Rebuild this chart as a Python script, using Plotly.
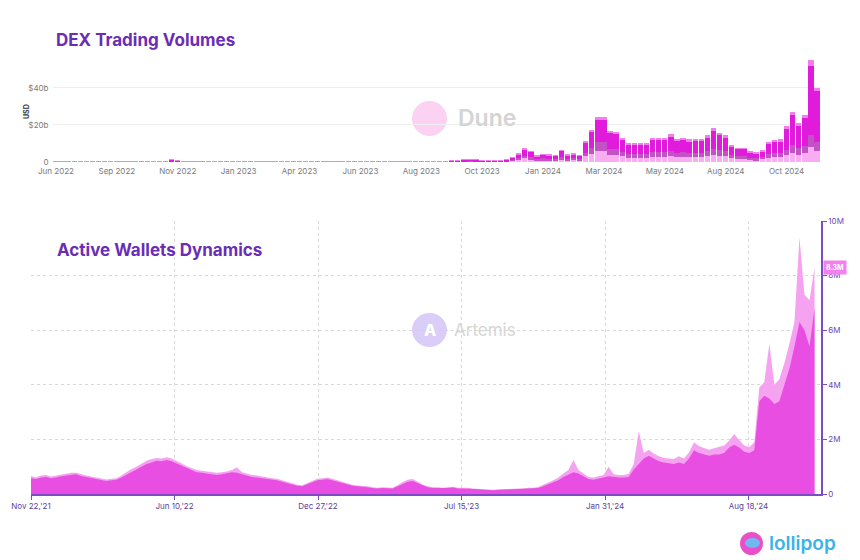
import plotly.graph_objects as go
import pandas as pd

W, H = 860, 560

# ---------------- DEX Trading Volumes (weekly, $b, stacked) ----------------
dex_weeks = pd.date_range("2022-06-27", periods=126, freq="7D")
dex_layer1 = [  # light pink (bottom)
    0.10, 0.12, 0.11, 0.12, 0.13, 0.12, 0.11, 0.10, 0.12, 0.13,
    0.12, 0.11, 0.12, 0.13, 0.12, 0.14, 0.15, 0.14, 0.16, 0.30,
    0.22, 0.15, 0.13, 0.12, 0.11, 0.12, 0.13, 0.12, 0.11, 0.10,
    0.11, 0.12, 0.12, 0.11, 0.10, 0.10, 0.11, 0.12, 0.11, 0.10,
    0.10, 0.11, 0.12, 0.11, 0.10, 0.11, 0.12, 0.12, 0.11, 0.10,
    0.11, 0.12, 0.13, 0.12, 0.11, 0.12, 0.13, 0.14, 0.15, 0.16,
    0.18, 0.20, 0.22, 0.24, 0.26, 0.30,
    0.40, 0.50, 0.55, 0.50, 0.45, 0.40, 0.30, 0.35, 0.50, 0.90,
    1.40, 2.00, 1.70, 1.10, 1.30, 1.20, 1.10, 1.80, 1.20, 1.40,
    1.20, 3.00, 4.50, 5.80, 5.80, 4.00, 3.90, 3.00, 2.40, 2.40,
    2.30, 2.30, 2.90, 2.90, 2.90, 3.30, 2.80, 2.90, 2.70, 2.80,
    2.80, 3.20, 4.00, 3.50, 3.20, 2.10, 1.80, 1.80, 1.40, 1.30,
    1.50, 2.40, 2.70, 2.70, 3.60, 4.80, 4.00, 4.60, 8.00, 6.00,
]
dex_layer2 = [  # mauve
    0.18, 0.20, 0.22, 0.20, 0.19, 0.21, 0.20, 0.18, 0.20, 0.22,
    0.21, 0.20, 0.19, 0.20, 0.22, 0.21, 0.20, 0.22, 0.24, 0.30,
    0.26, 0.22, 0.20, 0.19, 0.18, 0.20, 0.21, 0.20, 0.19, 0.18,
    0.18, 0.19, 0.20, 0.18, 0.17, 0.18, 0.19, 0.18, 0.17, 0.16,
    0.16, 0.17, 0.18, 0.17, 0.16, 0.17, 0.18, 0.17, 0.16, 0.15,
    0.16, 0.17, 0.18, 0.17, 0.16, 0.17, 0.18, 0.19, 0.20, 0.20,
    0.21, 0.22, 0.22, 0.23, 0.24, 0.25,
    0.20, 0.25, 0.30, 0.25, 0.20, 0.20, 0.15, 0.15, 0.25, 0.45,
    0.70, 1.10, 0.90, 0.50, 0.70, 0.60, 0.60, 1.00, 0.60, 0.70,
    0.60, 2.00, 3.20, 5.00, 5.00, 3.20, 3.10, 2.40, 1.80, 1.80,
    1.90, 1.80, 2.30, 2.30, 2.30, 2.60, 2.20, 2.30, 2.10, 2.20,
    2.20, 2.50, 3.20, 2.80, 2.50, 1.60, 1.30, 1.30, 1.00, 0.90,
    1.10, 1.80, 2.00, 2.00, 3.00, 4.20, 3.40, 4.00, 6.50, 5.00,
]
dex_layer3 = [  # magenta
    0.06, 0.05, 0.07, 0.06, 0.05, 0.06, 0.07, 0.05, 0.06, 0.05,
    0.06, 0.07, 0.06, 0.05, 0.06, 0.08, 0.10, 0.12, 0.20, 0.90,
    0.45, 0.15, 0.08, 0.07, 0.06, 0.05, 0.06, 0.07, 0.06, 0.05,
    0.05, 0.06, 0.05, 0.05, 0.04, 0.05, 0.06, 0.05, 0.04, 0.05,
    0.05, 0.04, 0.05, 0.06, 0.05, 0.04, 0.05, 0.05, 0.04, 0.05,
    0.05, 0.06, 0.07, 0.06, 0.05, 0.06, 0.07, 0.08, 0.10, 0.12,
    0.14, 0.16, 0.18, 0.22, 0.26, 0.30,
    0.55, 0.70, 0.80, 0.70, 0.60, 0.55, 0.40, 0.45, 0.70, 1.45,
    2.40, 4.00, 3.10, 1.85, 2.30, 2.10, 1.95, 3.60, 2.10, 2.40,
    2.00, 5.80, 8.90, 12.50, 12.50, 8.80, 8.70, 7.10, 5.70, 5.70,
    5.70, 5.50, 7.20, 7.20, 7.20, 8.30, 7.00, 7.20, 6.80, 7.00,
    7.00, 8.00, 10.20, 8.80, 8.00, 5.10, 4.20, 4.20, 3.20, 2.90,
    3.60, 6.10, 6.80, 6.90, 11.80, 16.60, 12.80, 15.30, 37.50, 27.20,
]
dex_layer4 = [  # light magenta cap
    0.01, 0.01, 0.02, 0.01, 0.01, 0.01, 0.02, 0.01, 0.01, 0.01,
    0.01, 0.02, 0.01, 0.01, 0.01, 0.01, 0.02, 0.02, 0.02, 0.05,
    0.03, 0.02, 0.01, 0.01, 0.01, 0.01, 0.01, 0.02, 0.01, 0.01,
    0.01, 0.01, 0.01, 0.01, 0.01, 0.01, 0.01, 0.01, 0.01, 0.01,
    0.01, 0.01, 0.01, 0.01, 0.01, 0.01, 0.01, 0.01, 0.01, 0.01,
    0.01, 0.01, 0.01, 0.01, 0.01, 0.01, 0.01, 0.02, 0.02, 0.02,
    0.02, 0.02, 0.03, 0.03, 0.03, 0.04,
    0.05, 0.05, 0.05, 0.05, 0.05, 0.05, 0.05, 0.05, 0.05, 0.10,
    0.20, 0.30, 0.20, 0.15, 0.20, 0.20, 0.15, 0.30, 0.20, 0.20,
    0.20, 0.50, 0.70, 1.00, 1.00, 0.70, 0.70, 0.60, 0.50, 0.50,
    0.50, 0.50, 0.60, 0.60, 0.60, 0.70, 0.60, 0.60, 0.60, 0.60,
    0.60, 0.70, 0.80, 0.70, 0.70, 0.40, 0.30, 0.30, 0.30, 0.30,
    0.30, 0.50, 0.60, 0.60, 1.00, 1.40, 1.00, 1.30, 3.00, 2.00,
]
dex_tick_dates = ["2022-06-27", "2022-09-05", "2022-11-14", "2023-01-23", "2023-04-03",
                  "2023-06-12", "2023-08-21", "2023-10-30", "2024-01-08", "2024-03-18",
                  "2024-05-27", "2024-08-05", "2024-10-14"]
dex_tick_text = ["Jun 2022", "Sep 2022", "Nov 2022", "Jan 2023", "Apr 2023", "Jun 2023",
                 "Aug 2023", "Oct 2023", "Jan 2024", "Mar 2024", "May 2024", "Aug 2024", "Oct 2024"]
dex_y_ticks = [0, 20, 40]
dex_y_text = ["0", "$20b", "$40b"]

# ---------------- Active Wallets (weekly, millions) ----------------
wal_weeks = pd.date_range("2021-11-22", periods=157, freq="7D")
wal_base = [
    0.58, 0.55, 0.60, 0.62, 0.58, 0.60, 0.65, 0.68, 0.70, 0.72,
    0.66, 0.62, 0.58, 0.55, 0.50, 0.48, 0.50, 0.52, 0.60, 0.70,
    0.80, 0.88, 1.00, 1.10, 1.15, 1.22, 1.20, 1.25, 1.20, 1.12,
    1.05, 0.95, 0.88, 0.80, 0.78, 0.75, 0.73, 0.70, 0.72, 0.75,
    0.80, 0.78, 0.72, 0.68, 0.62, 0.60, 0.58, 0.55, 0.52, 0.50,
    0.45, 0.40, 0.35, 0.30, 0.28, 0.35, 0.42, 0.50, 0.52, 0.55,
    0.50, 0.45, 0.40, 0.35, 0.30, 0.28, 0.27, 0.25, 0.22, 0.20,
    0.22, 0.20, 0.20, 0.28, 0.38, 0.45, 0.48, 0.40, 0.30, 0.25,
    0.22, 0.22, 0.20, 0.22, 0.24, 0.20, 0.20, 0.20, 0.18, 0.17,
    0.15, 0.15, 0.14, 0.15, 0.15, 0.16, 0.17, 0.18, 0.18, 0.20,
    0.20, 0.22, 0.28, 0.35, 0.42, 0.50, 0.62, 0.72, 0.80, 0.75,
    0.65, 0.55, 0.52, 0.55, 0.60, 0.65, 0.62, 0.60, 0.60, 0.62,
    0.90, 1.10, 1.30, 1.40, 1.30, 1.20, 1.15, 1.12, 1.10, 1.15,
    1.10, 1.30, 1.60, 1.50, 1.45, 1.40, 1.45, 1.45, 1.50, 1.70,
    1.80, 1.70, 1.55, 1.50, 1.60, 3.40, 3.60, 3.50, 3.30, 3.40,
    4.00, 4.60, 5.40, 6.30, 6.00, 5.40, 6.80,
]
wal_peak = [
    0.66, 0.60, 0.68, 0.70, 0.64, 0.68, 0.72, 0.75, 0.78, 0.78,
    0.72, 0.68, 0.64, 0.60, 0.56, 0.53, 0.56, 0.58, 0.68, 0.80,
    0.92, 1.00, 1.12, 1.22, 1.28, 1.32, 1.30, 1.35, 1.30, 1.22,
    1.12, 1.02, 0.95, 0.88, 0.85, 0.82, 0.80, 0.78, 0.80, 0.82,
    0.88, 0.98, 0.80, 0.75, 0.70, 0.68, 0.64, 0.60, 0.58, 0.56,
    0.50, 0.45, 0.39, 0.34, 0.32, 0.40, 0.48, 0.56, 0.58, 0.60,
    0.56, 0.50, 0.44, 0.39, 0.34, 0.31, 0.30, 0.28, 0.25, 0.23,
    0.25, 0.23, 0.23, 0.32, 0.44, 0.52, 0.55, 0.45, 0.34, 0.28,
    0.25, 0.25, 0.23, 0.25, 0.27, 0.23, 0.23, 0.23, 0.20, 0.19,
    0.17, 0.17, 0.16, 0.17, 0.17, 0.18, 0.19, 0.20, 0.20, 0.23,
    0.23, 0.26, 0.33, 0.42, 0.50, 0.60, 0.75, 0.88, 1.25, 0.88,
    0.75, 0.62, 0.60, 0.64, 0.70, 1.00, 0.72, 0.70, 0.70, 0.74,
    1.10, 2.30, 1.50, 1.62, 1.48, 1.38, 1.32, 1.30, 1.28, 1.38,
    1.30, 1.52, 1.90, 1.75, 1.68, 1.62, 1.68, 1.72, 1.78, 1.95,
    2.20, 1.98, 1.78, 1.72, 1.90, 3.90, 4.10, 5.50, 4.00, 4.20,
    4.80, 5.50, 6.30, 9.40, 7.30, 7.10, 8.30,
]
wal_tick_dates = ["2021-11-22", "2022-06-10", "2022-12-27", "2023-07-15", "2024-01-31", "2024-08-18"]
wal_tick_text = ["Nov 22,'21", "Jun 10,'22", "Dec 27,'22", "Jul 15,'23", "Jan 31,'24", "Aug 18,'24"]
wal_y_ticks = [0, 2, 4, 6, 8, 10]
wal_y_text = ["0", "2M", "4M", "6M", "8M", "10M"]
wal_latest = 8.3


def px(x):
    return x / W


def py(y):
    return 1 - y / H


FONT = "Inter"
PURPLE_TITLE = "#6a2db5"
AXIS_PURPLE = "#7a4cc6"

fig = go.Figure()

layer_colors = ["#f8acf2", "#c253c4", "#e11bdc", "#f07eec"]
layer_names = ["Layer 1", "Layer 2", "Layer 3", "Layer 4"]
for vals, col, nm in zip([dex_layer1, dex_layer2, dex_layer3, dex_layer4], layer_colors, layer_names):
    fig.add_trace(go.Bar(x=dex_weeks, y=vals, name=nm, marker=dict(color=col, line=dict(width=0)),
                         xaxis="x", yaxis="y"))

fig.add_trace(go.Scatter(x=wal_weeks, y=wal_peak, mode="lines", line=dict(width=0),
                         fill="tozeroy", fillcolor="#f5a3f0", xaxis="x2", yaxis="y2", name="Peak"))
fig.add_trace(go.Scatter(x=wal_weeks, y=wal_base, mode="lines", line=dict(width=0),
                         fill="tozeroy", fillcolor="#e94ee3", xaxis="x2", yaxis="y2", name="Active wallets"))

fig.update_layout(
    width=W, height=H, margin=dict(l=0, r=0, t=0, b=0),
    paper_bgcolor="white", plot_bgcolor="white", showlegend=False,
    barmode="stack", bargap=0.12,
    font=dict(family=FONT, size=8, color="#777"),
    xaxis=dict(domain=[px(52.5), px(820.5)], anchor="y", type="date", automargin=False,
               range=["2022-06-23", "2024-11-22"], tickvals=dex_tick_dates, ticktext=dex_tick_text,
               showgrid=False, zeroline=False, showline=False, ticks="", ticklabelstandoff=3,
               tickfont=dict(size=8, color="#7a7a7a")),
    yaxis=dict(domain=[py(162), py(56.5)], anchor="x", range=[0, 57], automargin=False,
               tickvals=dex_y_ticks, ticktext=dex_y_text, showgrid=True, gridcolor="#efefef",
               zeroline=False, showline=False, ticks="", ticklabelstandoff=3,
               tickfont=dict(size=8, color="#7a7a7a")),
    xaxis2=dict(domain=[px(31), px(821)], anchor="y2", type="date", automargin=False,
                range=["2021-11-22", "2024-11-27"], tickvals=wal_tick_dates, ticktext=wal_tick_text,
                showgrid=True, gridcolor="#d9d9d9", griddash="dot", zeroline=False,
                showline=True, linecolor=AXIS_PURPLE, linewidth=1.5,
                ticks="outside", ticklen=4, tickcolor=AXIS_PURPLE,
                tickfont=dict(size=8, color="#5d3d99")),
    yaxis2=dict(domain=[py(494), py(221)], anchor="x2", side="right", range=[0, 10], automargin=False,
                tickvals=wal_y_ticks, ticktext=wal_y_text, showgrid=True, gridcolor="#d9d9d9",
                griddash="dot", zeroline=False, showline=True, linecolor=AXIS_PURPLE, linewidth=1.5,
                ticks="outside", ticklen=4, tickcolor=AXIS_PURPLE,
                tickfont=dict(size=8, color="#6a48b0")),
)

shapes = [
    # Dune watermark circle
    dict(type="circle", xref="paper", yref="paper", x0=px(412), x1=px(447), y0=py(136), y1=py(101),
         fillcolor="#fbd2f1", line=dict(width=0), layer="below"),
    # Artemis watermark circle
    dict(type="circle", xref="paper", yref="paper", x0=px(412), x1=px(447), y0=py(347), y1=py(313),
         fillcolor="#d3c6f7", line=dict(width=0), layer="above", opacity=0.85),
    # lollipop logo circle
    dict(type="circle", xref="paper", yref="paper", x0=px(740), x1=px(763), y0=py(555), y1=py(532),
         fillcolor="#ea4fc9", line=dict(width=0)),
    dict(type="circle", xref="paper", yref="paper", x0=px(745), x1=px(760), y0=py(548), y1=py(538),
         fillcolor="#6fb8f0", line=dict(width=0)),
]
fig.update_layout(shapes=shapes)

annotations = [
    dict(text="DEX Trading Volumes", x=px(54), y=py(40), xref="paper", yref="paper",
         xanchor="left", yanchor="middle", showarrow=False,
         font=dict(family=FONT, size=17, color=PURPLE_TITLE, weight=700)),
    dict(text="Active Wallets Dynamics", x=px(55), y=py(250), xref="paper", yref="paper",
         xanchor="left", yanchor="middle", showarrow=False,
         font=dict(family=FONT, size=17, color=PURPLE_TITLE, weight=700)),
    dict(text="USD", x=px(27), y=py(112), xref="paper", yref="paper", textangle=-90,
         xanchor="center", yanchor="middle", showarrow=False,
         font=dict(family=FONT, size=7, color="#333", weight=700)),
    dict(text="Dune", x=px(456), y=py(118), xref="paper", yref="paper",
         xanchor="left", yanchor="middle", showarrow=False,
         font=dict(family=FONT, size=23, color="#d4d4d4", weight=600)),
    dict(text="A", x=px(429.5), y=py(330), xref="paper", yref="paper",
         xanchor="center", yanchor="middle", showarrow=False,
         font=dict(family=FONT, size=16, color="white", weight=800)),
    dict(text="Artemis", x=px(452), y=py(330), xref="paper", yref="paper",
         xanchor="left", yanchor="middle", showarrow=False,
         font=dict(family=FONT, size=17, color="#d6d6d6")),
    dict(text="%.1fM" % wal_latest, x=px(823), y=wal_latest, xref="paper", yref="y2",
         xanchor="left", yanchor="middle", showarrow=False, bgcolor="#f57ff0", borderpad=2,
         font=dict(family=FONT, size=7, color="white", weight=700)),
    dict(text="lollipop", x=px(767), y=py(543), xref="paper", yref="paper",
         xanchor="left", yanchor="middle", showarrow=False,
         font=dict(family=FONT, size=19, color="#39b3e8", weight=600)),
]
fig.update_layout(annotations=annotations)

fig.write_html("out.html")
